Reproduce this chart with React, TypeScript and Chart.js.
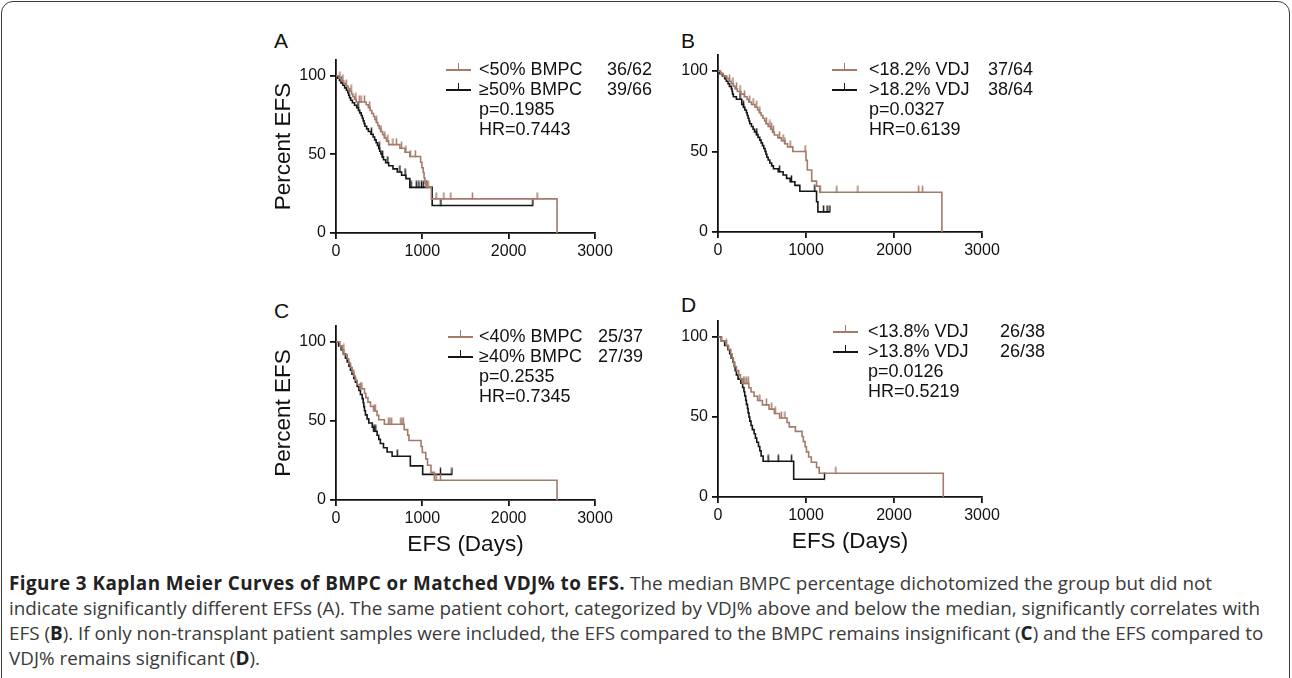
import React, { useEffect, useRef } from "react";
import { Chart, registerables } from "chart.js";

Chart.register(...registerables);

// ---------------- axes ----------------
const xTickValues = [0, 1000, 2000, 3000];
const xTickLabels = ["0", "1000", "2000", "3000"];
const yTickValues = [0, 50, 100];
const yTickLabels = ["0", "50", "100"];
const xAxisMax = 3000;
const yAxisMax = 110;
const xTitleText = "EFS (Days)";
const yTitleText = "Percent EFS";

// ---------------- Panel A (BMPC 50%) ----------------
const aLowT = [35, 60, 90, 115, 140, 160, 180, 196, 215, 234, 350, 375, 395, 415, 435, 450, 467, 485, 500, 520, 540, 560, 585, 610, 740, 800, 855, 980, 995, 1010, 1020, 1030, 1045, 1105, 2560];
const aLowS = [98.4, 96.8, 95.2, 93.5, 91.8, 90.1, 88.4, 86.7, 85.0, 83.3, 81.5, 79.7, 77.9, 76.0, 74.1, 72.2, 70.3, 68.4, 66.5, 64.5, 62.5, 60.5, 58.4, 56.2, 53.9, 51.3, 48.6, 45.0, 41.5, 38.5, 35.0, 31.5, 29.2, 21.7, 0];
const aLowCens = [45, 80, 120, 175, 230, 270, 290, 330, 390, 470, 520, 565, 600, 660, 700, 760, 810, 860, 920, 1050, 1067, 1160, 1250, 1330, 1580, 2330];
const aHighT = [20, 40, 60, 80, 100, 120, 137, 147, 157, 170, 190, 215, 240, 260, 275, 292, 305, 315, 325, 335, 355, 375, 405, 430, 448, 465, 480, 495, 506, 520, 535, 550, 575, 610, 660, 710, 760, 810, 855, 1114];
const aHighS = [98.5, 97.0, 95.4, 93.9, 92.3, 90.8, 89.2, 87.6, 86.0, 84.4, 82.8, 81.2, 79.6, 78.0, 76.4, 74.7, 73.0, 71.3, 69.6, 67.9, 66.2, 64.5, 62.8, 61.0, 59.2, 57.4, 55.6, 53.8, 52.0, 50.2, 48.4, 46.6, 44.7, 42.8, 40.8, 38.8, 36.7, 34.6, 29.0, 17.5];
const aHighCens = [60, 255, 410, 500, 540, 600, 740, 800, 870, 930, 960, 990, 1010, 1050, 1215, 2281];
const aLabels = ["<50% BMPC", "\u226550% BMPC"];
const aCounts = ["36/62", "39/66"];
const aStats = ["p=0.1985", "HR=0.7443"];

// ---------------- Panel B (VDJ 18.2%) ----------------
const bLowT = [30, 60, 100, 130, 150, 175, 195, 220, 260, 300, 330, 350, 380, 420, 450, 470, 490, 510, 530, 545, 570, 600, 620, 640, 680, 720, 760, 790, 850, 1000, 1015, 1065, 1120, 1157, 2544];
const bLowS = [98.4, 96.9, 95.3, 93.7, 92.1, 90.5, 88.9, 87.3, 85.7, 84.1, 82.4, 80.8, 79.2, 77.5, 75.8, 74.1, 72.4, 70.7, 69.0, 67.3, 65.6, 63.9, 62.1, 60.3, 58.5, 56.7, 54.8, 52.9, 50.0, 44.5, 38.5, 31.6, 28.5, 24.7, 0];
const bLowCens = [130, 170, 210, 250, 300, 360, 400, 440, 475, 550, 590, 610, 630, 700, 740, 760, 820, 990, 1160, 1350, 1590, 2280, 2325];
const bHighT = [20, 50, 76, 95, 114, 130, 152, 160, 165, 175, 209, 270, 290, 305, 323, 332, 342, 352, 361, 380, 399, 415, 437, 455, 475, 490, 505, 520, 535, 545, 555, 570, 589, 610, 630, 684, 740, 779, 820, 874, 930, 1120, 1135];
const bHighS = [98.4, 96.9, 95.3, 93.7, 92.1, 90.5, 88.9, 87.3, 85.7, 84.1, 82.5, 79.2, 77.5, 75.8, 74.1, 72.4, 70.7, 69.0, 67.3, 65.6, 63.9, 62.2, 60.5, 58.8, 57.1, 55.4, 53.7, 51.9, 50.1, 48.3, 46.5, 44.7, 42.9, 41.1, 39.3, 37.4, 35.4, 33.3, 31.2, 29.0, 25.3, 18.8, 12.5];
const bHighCens = [250, 290, 440, 700, 835, 1100, 1200, 1240, 1272];
const bLabels = ["<18.2% VDJ", ">18.2% VDJ"];
const bCounts = ["37/64", "38/64"];
const bStats = ["p=0.0327", "HR=0.6139"];

// ---------------- Panel C (BMPC 40%, non-transplant) ----------------
const cLowT = [45, 72, 91, 130, 148, 168, 187, 206, 225, 245, 283, 330, 345, 370, 400, 440, 476, 495, 560, 790, 830, 845, 985, 1000, 1040, 1060, 1100, 1140, 2560];
const cLowS = [97.3, 94.6, 91.9, 89.2, 86.5, 83.8, 81.1, 78.4, 75.7, 73.0, 70.3, 67.5, 64.7, 61.9, 59.1, 56.3, 53.5, 50.7, 47.9, 44.5, 41.0, 37.6, 33.8, 30.0, 26.0, 22.0, 17.5, 12.5, 0];
const cLowCens = [90, 206, 285, 300, 440, 455, 610, 625, 645, 750, 765, 780, 1160, 1210];
const cHighT = [30, 60, 85, 110, 130, 150, 168, 185, 206, 225, 245, 265, 283, 303, 315, 322, 330, 341, 360, 380, 420, 440, 476, 495, 514, 550, 592, 650, 861, 1004];
const cHighS = [97.4, 94.9, 92.3, 89.7, 87.2, 84.6, 82.0, 79.5, 76.9, 74.4, 71.8, 69.2, 66.7, 64.1, 61.5, 59.0, 56.4, 53.8, 51.3, 48.7, 46.1, 43.5, 40.9, 38.3, 35.7, 33.0, 30.3, 27.7, 21.6, 16.2];
const cHighCens = [440, 460, 710, 1210, 1343];
const cLabels = ["<40% BMPC", "\u226540% BMPC"];
const cCounts = ["25/37", "27/39"];
const cStats = ["p=0.2535", "HR=0.7345"];

// ---------------- Panel D (VDJ 13.8%, non-transplant) ----------------
const dLowT = [40, 95, 120, 145, 160, 175, 190, 209, 235, 255, 275, 350, 375, 410, 450, 505, 580, 640, 700, 785, 810, 880, 955, 970, 990, 1005, 1030, 1060, 1120, 1150, 2560];
const dLowS = [97.4, 94.7, 92.1, 89.5, 86.8, 84.2, 81.6, 79.0, 76.3, 73.7, 71.0, 68.3, 65.6, 63.0, 60.3, 57.6, 54.9, 52.2, 49.4, 46.6, 43.8, 41.0, 37.8, 34.6, 31.4, 28.2, 25.0, 21.7, 18.4, 14.8, 0];
const dLowCens = [95, 290, 305, 325, 345, 475, 550, 610, 650, 720, 760, 1340];
const dHighT = [38, 76, 114, 133, 150, 171, 185, 195, 209, 228, 260, 280, 295, 304, 315, 323, 335, 342, 352, 361, 375, 390, 410, 425, 440, 460, 475, 490, 513, 860];
const dHighS = [97.4, 94.7, 92.1, 89.5, 86.8, 84.2, 81.6, 78.9, 76.3, 73.7, 71.1, 68.4, 65.8, 63.2, 60.5, 57.9, 55.3, 52.6, 50.0, 47.4, 44.7, 42.1, 39.5, 36.8, 34.2, 31.6, 28.9, 25.6, 22.3, 11.1];
const dHighCens = [570, 685, 836, 1210];
const dLabels = ["<13.8% VDJ", ">13.8% VDJ"];
const dCounts = ["26/38", "26/38"];
const dStats = ["p=0.0126", "HR=0.5219"];

// ---------------- caption ----------------
const captionBold = "Figure 3 Kaplan Meier Curves of BMPC or Matched VDJ% to EFS.";
const captionLine1 = " The median BMPC percentage dichotomized the group but did not";
const captionLine2 = "indicate significantly different EFSs (A). The same patient cohort, categorized by VDJ% above and below the median, significantly correlates with";
const captionLine3a = "EFS (";
const captionLine3b = "). If only non-transplant patient samples were included, the EFS compared to the BMPC remains insignificant (";
const captionLine3c = ") and the EFS compared to";
const captionLine4a = "VDJ% remains significant (";
const captionLine4b = ").";

// ---------------- styles ----------------
const BROWN = "#a57a6a";
const BLACK = "#151515";
const AXIS = "#111111";
const FONT = "'Liberation Sans', Arial, Helvetica, sans-serif";
const CAPTION_FONT = "'Open Sans', 'Noto Sans', sans-serif";

type Curve = { t: number[]; s: number[]; c: number[]; color: string };
type Geo = { L: number; R: number; T: number; B: number; yTitle: boolean; xTitle: boolean };

function survAt(time: number, t: number[], s: number[]) {
  let v = 100;
  for (let i = 0; i < t.length; i++) if (t[i] <= time) v = s[i];
  return v;
}

function buildCurve(t: number[], s: number[], c: number[]) {
  const pts = [{ x: 0, y: 100 }];
  t.forEach((ti, i) => pts.push({ x: ti, y: s[i] }));
  const lastC = Math.max(...c);
  if (lastC > t[t.length - 1]) pts.push({ x: lastC, y: s[s.length - 1] });
  const cens = c.map((ci) => ({ x: ci, y: survAt(ci, t, s) }));
  return { pts, cens };
}

function makeTick(color: string) {
  const cv = document.createElement("canvas");
  cv.width = 3;
  cv.height = 14;
  const ctx = cv.getContext("2d")!;
  ctx.strokeStyle = color;
  ctx.lineWidth = 1.5;
  ctx.beginPath();
  ctx.moveTo(1.5, 0.5);
  ctx.lineTo(1.5, 7.5);
  ctx.stroke();
  return cv;
}

function KMChart({ geo, curves }: { geo: Geo; curves: Curve[] }) {
  const ref = useRef<HTMLCanvasElement>(null);
  const WY = 70;
  const PT = 20;
  const PR = 30;
  const HX = geo.xTitle ? 62 : 36;
  const w = geo.R - geo.L + WY + PR;
  const h = PT + (geo.B - geo.T) + HX;

  useEffect(() => {
    const datasets: any[] = [];
    curves.forEach((cv) => {
      const { pts, cens } = buildCurve(cv.t, cv.s, cv.c);
      datasets.push({
        data: pts,
        showLine: true,
        stepped: true,
        borderColor: cv.color,
        borderWidth: 1.6,
        pointRadius: 0,
        fill: false,
        clip: 6,
      });
      datasets.push({
        data: cens,
        showLine: false,
        pointStyle: makeTick(cv.color),
        pointRadius: 3,
        borderColor: cv.color,
        backgroundColor: cv.color,
        clip: false,
      });
    });
    const tickFont = { family: FONT, size: 16 };
    const titleFont = { family: FONT, size: 22.5 };
    const chart = new Chart(ref.current!, {
      type: "scatter",
      data: { datasets },
      options: {
        animation: false,
        responsive: false,
        devicePixelRatio: 1,
        events: [],
        layout: { padding: { left: 0, top: PT, right: PR, bottom: 0 } },
        plugins: { legend: { display: false }, tooltip: { enabled: false } },
        scales: {
          x: {
            type: "linear",
            min: 0,
            max: xAxisMax,
            afterBuildTicks: (sc: any) => {
              sc.ticks = xTickValues.map((v) => ({ value: v }));
            },
            afterFit: (sc: any) => {
              sc.height = HX;
            },
            ticks: {
              font: tickFont,
              color: "#111",
              padding: 3,
              maxRotation: 0,
              autoSkip: false,
              callback: (v: any) => xTickLabels[xTickValues.indexOf(Number(v))],
            },
            grid: { display: true, drawOnChartArea: false, drawTicks: true, tickLength: 6, color: AXIS, lineWidth: 1.8 },
            border: { display: true, color: AXIS, width: 1.8 },
            title: { display: geo.xTitle, text: xTitleText, font: titleFont, color: "#111", padding: { top: 4, bottom: 4 } },
          },
          y: {
            type: "linear",
            min: 0,
            max: yAxisMax,
            afterBuildTicks: (sc: any) => {
              sc.ticks = yTickValues.map((v) => ({ value: v }));
            },
            afterFit: (sc: any) => {
              sc.width = WY;
            },
            ticks: {
              font: tickFont,
              color: "#111",
              padding: 4,
              autoSkip: false,
              callback: (v: any) => yTickLabels[yTickValues.indexOf(Number(v))],
            },
            grid: { display: true, drawOnChartArea: false, drawTicks: true, tickLength: 6, color: AXIS, lineWidth: 1.8 },
            border: { display: true, color: AXIS, width: 1.8 },
            title: { display: geo.yTitle, text: yTitleText, font: titleFont, color: "#111", padding: { top: 4, bottom: 4 } },
          },
        },
      } as any,
    });
    return () => chart.destroy();
  }, []);

  return (
    <canvas
      ref={ref}
      width={w}
      height={h}
      style={{ position: "absolute", left: geo.L - WY, top: geo.T - PT, width: w, height: h }}
    />
  );
}

const legendText: React.CSSProperties = {
  position: "absolute",
  fontFamily: FONT,
  fontSize: 18,
  lineHeight: "21.6px",
  color: "#111",
  whiteSpace: "nowrap",
};

function Legend({
  lx, tx, cx, y0, labels, counts, stats,
}: { lx: number; tx: number; cx: number; y0: number; labels: string[]; counts: string[]; stats: string[] }) {
  const rowH = 20;
  const colors = [BROWN, BLACK];
  return (
    <>
      {labels.map((lab, i) => {
        const y = y0 + i * rowH;
        return (
          <React.Fragment key={i}>
            <div style={{ position: "absolute", left: lx, top: y - 0.8, width: 25, height: 1.6, background: colors[i] }} />
            <div style={{ position: "absolute", left: lx + 11.7, top: y - 7, width: 1.6, height: 7, background: colors[i] }} />
            <div style={{ ...legendText, left: tx, top: y - 10.8 }}>{lab}</div>
            <div style={{ ...legendText, left: cx, top: y - 10.8 }}>{counts[i]}</div>
          </React.Fragment>
        );
      })}
      {stats.map((st, j) => (
        <div key={"s" + j} style={{ ...legendText, left: tx, top: y0 + (2 + j) * rowH - 10.8 }}>
          {st}
        </div>
      ))}
    </>
  );
}

const letterStyle: React.CSSProperties = {
  position: "absolute",
  fontFamily: FONT,
  fontSize: 21,
  lineHeight: "21px",
  color: "#111",
};

const captionStyle: React.CSSProperties = {
  position: "absolute",
  left: 9,
  fontFamily: CAPTION_FONT,
  fontSize: 18.85,
  lineHeight: "25px",
  color: "#3a3a3a",
  whiteSpace: "nowrap",
};

const boldStyle: React.CSSProperties = { fontWeight: 700, color: "#222" };

export default function App() {
  const geoA: Geo = { L: 336, R: 595, T: 60, B: 233, yTitle: true, xTitle: false };
  const geoB: Geo = { L: 718, R: 982, T: 55, B: 232, yTitle: false, xTitle: false };
  const geoC: Geo = { L: 336, R: 595, T: 326, B: 500, yTitle: true, xTitle: true };
  const geoD: Geo = { L: 718, R: 982, T: 321, B: 497, yTitle: false, xTitle: true };

  return (
    <div style={{ position: "fixed", left: 0, top: 0, width: 1292, height: 678, background: "#fff", overflow: "hidden" }}>
      <div
        style={{
          position: "absolute",
          left: 1,
          top: 1,
          width: 1289,
          height: 760,
          border: "1.6px solid #3c3c3c",
          borderRadius: 12,
          boxSizing: "border-box",
        }}
      />
      <div style={{ ...letterStyle, left: 274, top: 30 }}>A</div>
      <div style={{ ...letterStyle, left: 681, top: 30 }}>B</div>
      <div style={{ ...letterStyle, left: 274, top: 300 }}>C</div>
      <div style={{ ...letterStyle, left: 681, top: 294 }}>D</div>

      <KMChart geo={geoA} curves={[{ t: aLowT, s: aLowS, c: aLowCens, color: BROWN }, { t: aHighT, s: aHighS, c: aHighCens, color: BLACK }]} />
      <KMChart geo={geoB} curves={[{ t: bLowT, s: bLowS, c: bLowCens, color: BROWN }, { t: bHighT, s: bHighS, c: bHighCens, color: BLACK }]} />
      <KMChart geo={geoC} curves={[{ t: cLowT, s: cLowS, c: cLowCens, color: BROWN }, { t: cHighT, s: cHighS, c: cHighCens, color: BLACK }]} />
      <KMChart geo={geoD} curves={[{ t: dLowT, s: dLowS, c: dLowCens, color: BROWN }, { t: dHighT, s: dHighS, c: dHighCens, color: BLACK }]} />

      <Legend lx={446} tx={479} cx={607} y0={70} labels={aLabels} counts={aCounts} stats={aStats} />
      <Legend lx={832} tx={869} cx={988} y0={70} labels={bLabels} counts={bCounts} stats={bStats} />
      <Legend lx={448} tx={479} cx={598} y0={337} labels={cLabels} counts={cCounts} stats={cStats} />
      <Legend lx={833} tx={868} cx={1000} y0={332} labels={dLabels} counts={dCounts} stats={dStats} />

      <div style={{ ...captionStyle, top: 571 }}>
        <span style={{ ...boldStyle, letterSpacing: "0.45px" }}>{captionBold}</span>
        {captionLine1}
      </div>
      <div style={{ ...captionStyle, top: 596 }}>{captionLine2}</div>
      <div style={{ ...captionStyle, top: 621 }}>
        {captionLine3a}
        <b style={boldStyle}>B</b>
        {captionLine3b}
        <b style={boldStyle}>C</b>
        {captionLine3c}
      </div>
      <div style={{ ...captionStyle, top: 646 }}>
        {captionLine4a}
        <b style={boldStyle}>D</b>
        {captionLine4b}
      </div>
    </div>
  );
}
